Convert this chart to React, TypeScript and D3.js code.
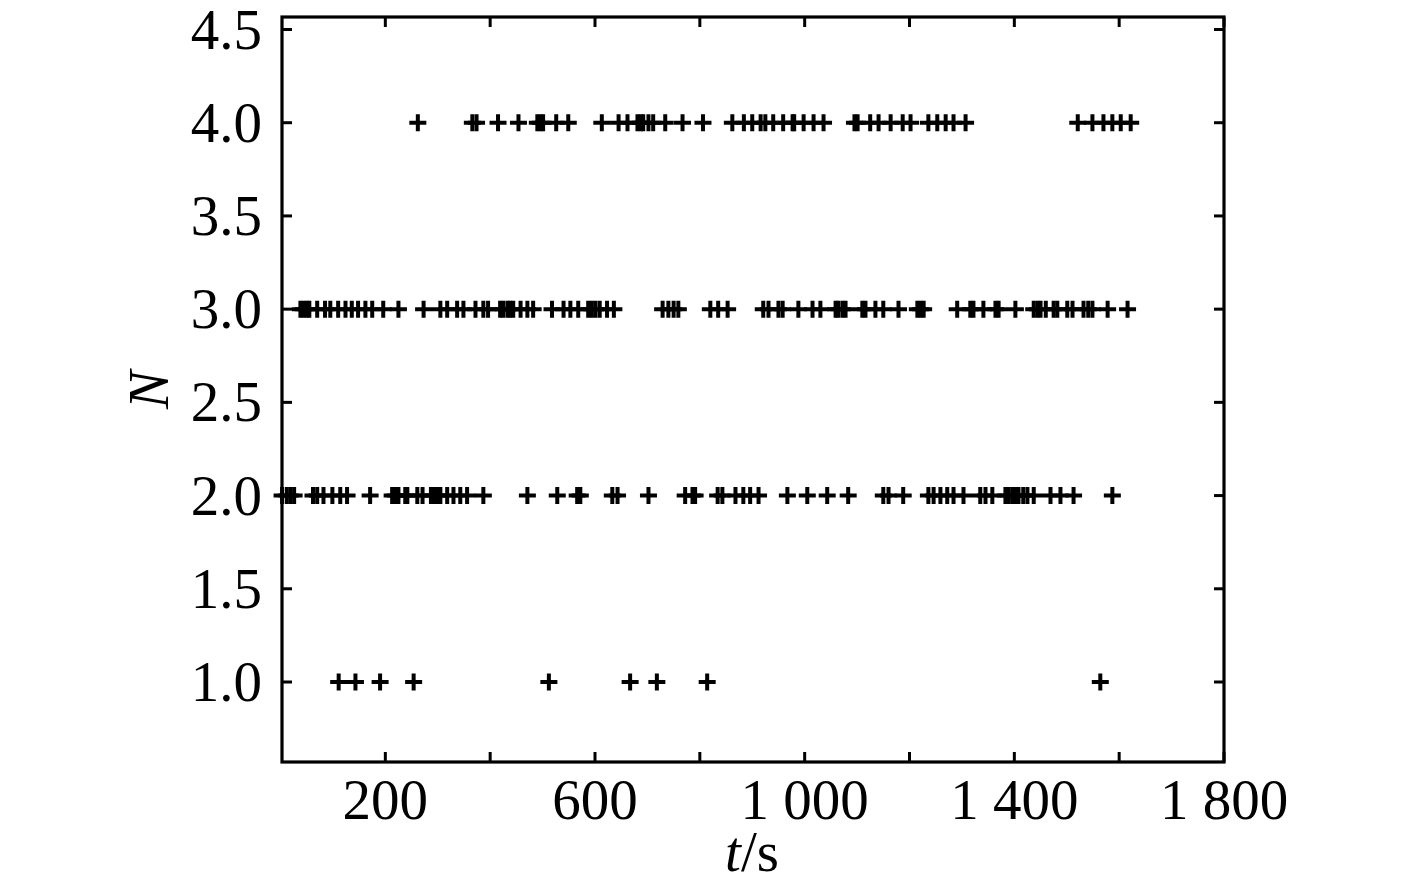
import React from "react";
import * as d3 from "d3";

const W = 1417;
const H = 886;

const xTicks = [200, 400, 600, 800, 1000, 1200, 1400, 1600, 1800];
const xLabelTicks = [200, 600, 1000, 1400, 1800];
const yTicks = [1.0, 1.5, 2.0, 2.5, 3.0, 3.5, 4.0, 4.5];

const tN4 = [262, 366, 374, 415, 454, 490, 496, 501, 526, 549, 613, 645, 662, 681, 687, 692, 702, 711, 734, 767, 806, 862, 884, 900, 916, 925, 940, 959, 977, 980, 998, 1017, 1036, 1095, 1101, 1125, 1141, 1164, 1187, 1202, 1236, 1253, 1269, 1284, 1307, 1521, 1549, 1570, 1587, 1603, 1622];
const tN3 = [38, 44, 50, 55, 70, 85, 95, 110, 124, 136, 148, 162, 175, 196, 225, 273, 305, 318, 337, 349, 372, 387, 396, 419, 425, 433, 438, 444, 458, 471, 482, 518, 540, 553, 568, 587, 594, 601, 609, 623, 636, 729, 740, 750, 759, 820, 835, 853, 921, 931, 950, 958, 988, 1015, 1030, 1059, 1064, 1072, 1078, 1110, 1116, 1135, 1150, 1179, 1215, 1221, 1227, 1291, 1316, 1322, 1341, 1364, 1370, 1402, 1437, 1444, 1450, 1460, 1475, 1482, 1501, 1511, 1532, 1541, 1549, 1578, 1616];
const tN2 = [3, 12, 19, 26, 62, 70, 82, 99, 114, 127, 171, 213, 219, 225, 238, 242, 261, 271, 287, 293, 299, 305, 318, 330, 343, 356, 387, 471, 528, 566, 572, 633, 643, 702, 772, 786, 791, 834, 843, 868, 883, 896, 912, 967, 1005, 1043, 1083, 1150, 1160, 1188, 1236, 1246, 1259, 1272, 1284, 1303, 1335, 1345, 1358, 1383, 1389, 1396, 1402, 1408, 1417, 1425, 1437, 1469, 1488, 1513, 1587];
const tN1 = [111, 143, 190, 254, 512, 667, 718, 814, 1564];

const series: { n: number; t: number[] }[] = [
  { n: 4, t: tN4 },
  { n: 3, t: tN3 },
  { n: 2, t: tN2 },
  { n: 1, t: tN1 },
];

const left = 282;
const right = 1224;
const top = 17;
const bottom = 762;

export default function App() {
  const x = d3.scaleLinear().domain([0, 1800]).range([280.5, right]);
  const y = d3.scaleLinear().domain([1.0, 4.5]).range([682, 29.5]);
  const font = "'Liberation Serif', 'Times New Roman', serif";
  const fs = 57;
  const tickLen = 10;
  const sw = 3;
  const arm = 8.5;

  const points = series.flatMap((s) => s.t.map((t) => ({ t, n: s.n })));

  return (
    <svg
      width={W}
      height={H}
      style={{ position: "absolute", left: 0, top: 0, background: "#fff" }}
    >
      <rect x={0} y={0} width={W} height={H} fill="#fff" />
      {/* markers */}
      <g stroke="#000" strokeWidth={4} fill="none">
        {points.map((p, i) => (
          <path
            key={i}
            d={`M${x(p.t) - arm},${y(p.n)}H${x(p.t) + arm}M${x(p.t)},${y(p.n) - arm}V${y(p.n) + arm}`}
          />
        ))}
      </g>
      {/* ticks */}
      <g stroke="#000" strokeWidth={sw}>
        {xTicks.map((t) => (
          <g key={"xt" + t}>
            <line x1={x(t)} x2={x(t)} y1={bottom} y2={bottom - tickLen} />
            <line x1={x(t)} x2={x(t)} y1={top} y2={top + tickLen} />
          </g>
        ))}
        {yTicks.map((v) => (
          <g key={"yt" + v}>
            <line x1={left} x2={left + tickLen} y1={y(v)} y2={y(v)} />
            <line x1={right} x2={right - tickLen} y1={y(v)} y2={y(v)} />
          </g>
        ))}
      </g>
      {/* frame */}
      <rect
        x={left}
        y={top}
        width={right - left}
        height={bottom - top}
        fill="none"
        stroke="#000"
        strokeWidth={3.2}
      />
      {/* x labels */}
      <g fontFamily={font} fontSize={fs} fill="#000" textAnchor="middle">
        {xLabelTicks.map((t) => (
          <text key={"xl" + t} x={x(t)} y={819}>
            {d3.format(",")(t).replace(",", " ")}
          </text>
        ))}
      </g>
      {/* y labels */}
      <g fontFamily={font} fontSize={fs} fill="#000" textAnchor="end">
        {yTicks.map((v) => (
          <text key={"yl" + v} x={262} y={y(v) + 19}>
            {v.toFixed(1)}
          </text>
        ))}
      </g>
      {/* axis titles */}
      <text x={752} y={871} fontFamily={font} fontSize={fs} fill="#000" textAnchor="middle">
        <tspan fontStyle="italic">t</tspan>/s
      </text>
      <text
        transform={`translate(168,390) rotate(-90)`}
        fontFamily={font}
        fontSize={fs}
        fontStyle="italic"
        fill="#000"
        textAnchor="middle"
      >
        N
      </text>
    </svg>
  );
}
